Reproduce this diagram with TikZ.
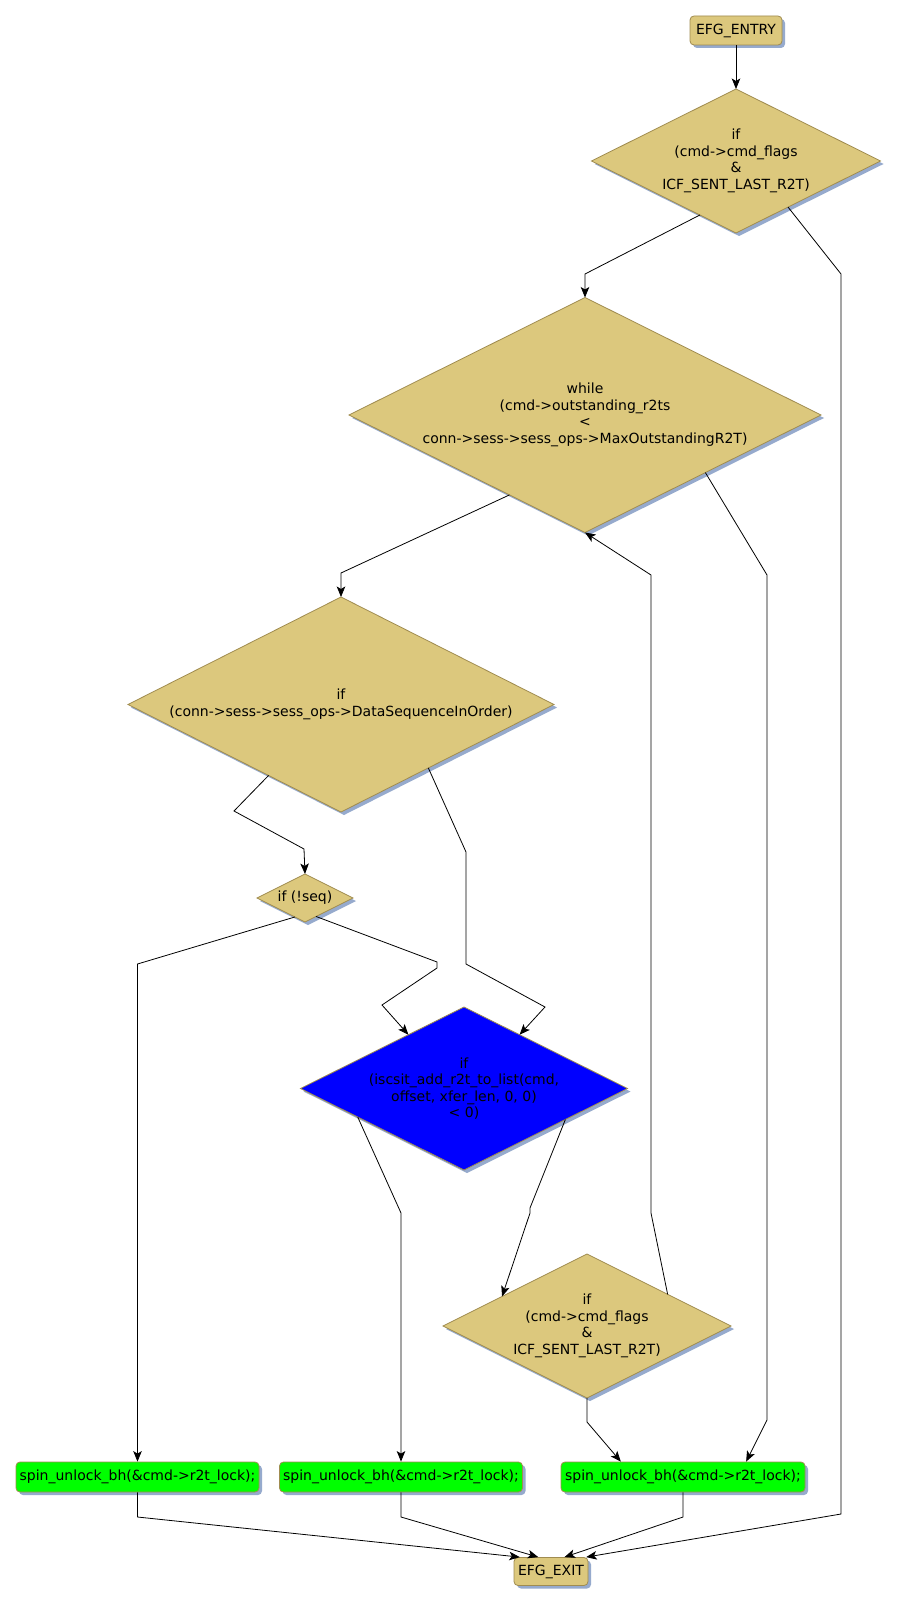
\documentclass[tikz,border=0pt]{standalone}
\usepackage{fontspec}
\setmainfont{DejaVu Sans}
\usetikzlibrary{shapes.geometric,shadows,calc,arrows.meta}
\definecolor{tanf}{RGB}{220,200,125}
\definecolor{bord}{RGB}{160,140,80}
\definecolor{shc}{RGB}{150,170,205}
\definecolor{gr}{RGB}{0,255,0}
\definecolor{bl}{RGB}{0,0,255}
\begin{document}
\begin{tikzpicture}[x=1pt,y=-1pt,
  shd/.style={drop shadow={shadow xshift=3pt,shadow yshift=-3pt,fill=shc,opacity=1}},
  txt/.style={font=\fontsize{14}{16.5}\selectfont,align=center,inner sep=0pt},
  boxn/.style={rectangle,rounded corners=4pt,draw=bord,line width=0.8pt,fill=tanf,inner sep=0pt,shd,txt},
  dia/.style={diamond,draw=bord,line width=0.8pt,fill=tanf,inner sep=0pt,outer sep=0pt,shd},
  edge/.style={draw=black,line width=0.8pt,-{Stealth[length=10.5pt,width=8.5pt,inset=2.5pt]}},
]
\useasboundingbox (0,0) rectangle (899,1605);
\fill[white] (0,0) rectangle (899,1605);

\node[boxn,minimum width=92pt,minimum height=29pt] (entry) at (736,30.5) {EFG\_ENTRY};
\node[dia,minimum width=289pt,minimum height=144pt,label={[txt]center:{if\\(cmd->cmd\_flags\\\&\\ICF\_SENT\_LAST\_R2T)}}] (d1) at (736,161) {};
\node[dia,minimum width=472pt,minimum height=235pt,label={[txt]center:{while\\(cmd->outstanding\_r2ts\\<\\conn->sess->sess\_ops->MaxOutstandingR2T)}}] (d2) at (585,415) {};
\node[dia,minimum width=426pt,minimum height=215pt,label={[txt]center:{if\\(conn->sess->sess\_ops->DataSequenceInOrder)}}] (d3) at (341,704.5) {};
\node[dia,minimum width=96pt,minimum height=48pt,label={[txt]center:{if (!seq)}}] (seq) at (305,898) {};
\node[dia,fill=bl,minimum width=327pt,minimum height=163pt,label={[txt]center:{if\\(iscsit\_add\_r2t\_to\_list(cmd,\\offset, xfer\_len, 0, 0)\\< 0)}}] (blue) at (464,1088.5) {};
\node[dia,minimum width=288pt,minimum height=144pt,label={[txt]center:{if\\(cmd->cmd\_flags\\\&\\ICF\_SENT\_LAST\_R2T)}}] (d4) at (587,1326) {};
\node[boxn,fill=gr,minimum width=243pt,minimum height=30pt] (g1) at (137.5,1477) {spin\_unlock\_bh(\&cmd->r2t\_lock);};
\node[boxn,fill=gr,minimum width=243pt,minimum height=30pt] (g2) at (401,1477) {spin\_unlock\_bh(\&cmd->r2t\_lock);};
\node[boxn,fill=gr,minimum width=244pt,minimum height=30pt] (g3) at (683,1477) {spin\_unlock\_bh(\&cmd->r2t\_lock);};
\node[boxn,minimum width=74pt,minimum height=28pt] (exit) at (551,1571.5) {EFG\_EXIT};

\draw[edge] (entry.south) -- (d1.north);
\draw[edge] ($(d1.south)!0.25!(d1.west)$) -- (585,274) -- (d2.north);
\draw[edge] ($(d1.south)!0.36!(d1.east)$) -- (841,274) -- (841,1514) -- ($(exit.north west)!0.97!(exit.north east)$);
\draw[edge] ($(d2.south)!0.32!(d2.west)$) -- (341,573) -- (d3.north);
\draw[edge] ($(d2.south)!0.51!(d2.east)$) -- (767,575) -- (767,1420) -- ($(g3.north west)!0.758!(g3.north east)$);
\draw[edge] ($(d3.south)!0.34!(d3.west)$) -- (234,811) -- (304,849) -- (seq.north);
\draw[edge] ($(d3.south)!0.41!(d3.east)$) -- (466,852) -- (466,964) -- (545,1007) -- ($(blue.north)!0.34!(blue.east)$);
\draw[edge] ($(seq.south)!0.21!(seq.west)$) -- (137.5,964) -- (g1.north);
\draw[edge] ($(seq.south)!0.23!(seq.east)$) -- (437,962) -- (437,968) -- (382,1005) -- ($(blue.north)!0.34!(blue.west)$);
\draw[edge] ($(blue.south)!0.65!(blue.west)$) -- (401,1213) -- (g2.north);
\draw[edge] ($(blue.south)!0.62!(blue.east)$) -- (530,1208) -- (530,1213) -- ($(d4.north)!0.59!(d4.west)$);
\draw[edge] ($(d4.north)!0.56!(d4.east)$) -- (651,1213) -- (651,575) -- (d2.south);
\draw[edge] (d4.south) -- (587,1422) -- ($(g3.north west)!0.246!(g3.north east)$);
\draw[edge] (g1.south) -- (137.5,1517) -- ($(exit.north west)!0.083!(exit.north east)$);
\draw[edge] (g2.south) -- (401,1517) -- ($(exit.north west)!0.33!(exit.north east)$);
\draw[edge] (g3.south) -- (683,1517) -- ($(exit.north west)!0.68!(exit.north east)$);
\end{tikzpicture}
\end{document}
